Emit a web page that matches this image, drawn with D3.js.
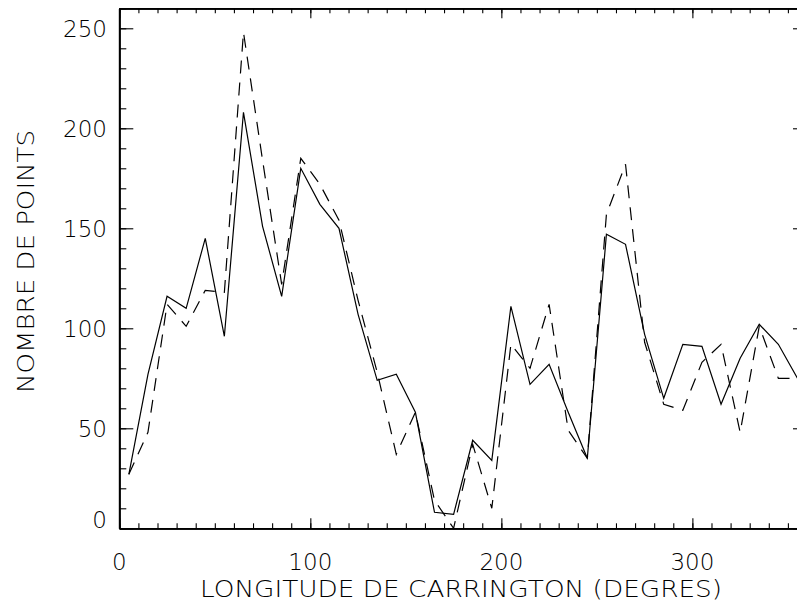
<!DOCTYPE html>
<html>
<head>
<meta charset="utf-8">
<script src="https://cdn.jsdelivr.net/npm/d3@7"></script>
<style>
html,body{margin:0;padding:0;background:#fff;}
svg{display:block;}
text{font-family:"DejaVu Sans","Liberation Sans",sans-serif;font-weight:200;fill:#000;}
</style>
</head>
<body>
<svg id="chart" width="797" height="611"></svg>
<script>
// ---- data ----
const longitude = [5,15,25,35,45,55,65,75,85,95,105,115,125,135,145,155,165,175,
                   185,195,205,215,225,235,245,255,265,275,285,295,305,315,325,335,345,355];
const solidSeries = [27,77,116,110,145,96,208,151,116,180,162,150,107,74,77,58,8,7,
                     44,34,111,72,82,58,35,147,142,97,65,92,91,62,85,102,92,75];
const dashedSeries = [27,48,112,101,119,118,248,184,122,185,172,154,114,78,37,58,14,0,
                      42,10,92,80,112,49,35,157,182,93,62,59,83,92,48,101,75,75];
const xMajorTicks = [0,100,200,300];
const yMajorTicks = [0,50,100,150,200,250];
const xTitle = "LONGITUDE DE CARRINGTON (DEGRES)";
const yTitle = "NOMBRE DE POINTS";

// ---- layout ----
const svg = d3.select("#chart");
const x = d3.scaleLinear().domain([0,360]).range([119.3, 807]);
const y = d3.scaleLinear().domain([0,260]).range([528.3, 8.3]);
const xMinor = d3.range(0,361,10);
const yMinor = d3.range(0,261,10);

function styleAxis(g){
  g.select(".domain").attr("stroke","#000").attr("stroke-width",1.8);
  g.selectAll(".tick line").attr("stroke","#000").attr("stroke-width",1.1);
  g.selectAll(".tick text").remove();
}
// bottom
svg.append("g").attr("transform",`translate(0,${y(0)})`)
  .call(d3.axisBottom(x).tickValues(xMinor).tickSize(-5).tickSizeOuter(0).tickFormat(""))
  .call(styleAxis);
svg.append("g").attr("transform",`translate(0,${y(0)})`)
  .call(d3.axisBottom(x).tickValues(xMajorTicks).tickSize(-10).tickSizeOuter(0).tickFormat(""))
  .call(styleAxis);
// top
svg.append("g").attr("transform",`translate(0,${y(260)})`)
  .call(d3.axisTop(x).tickValues(xMinor).tickSize(-5).tickSizeOuter(0).tickFormat(""))
  .call(styleAxis);
svg.append("g").attr("transform",`translate(0,${y(260)})`)
  .call(d3.axisTop(x).tickValues(xMajorTicks).tickSize(-10).tickSizeOuter(0).tickFormat(""))
  .call(styleAxis);
// left
svg.append("g").attr("transform",`translate(${x(0)},0)`)
  .call(d3.axisLeft(y).tickValues(yMinor).tickSize(-7).tickSizeOuter(0).tickFormat(""))
  .call(styleAxis);
svg.append("g").attr("transform",`translate(${x(0)},0)`)
  .call(d3.axisLeft(y).tickValues(yMajorTicks).tickSize(-14).tickSizeOuter(0).tickFormat(""))
  .call(styleAxis);
// right
svg.append("g").attr("transform",`translate(${x(360)},0)`)
  .call(d3.axisRight(y).tickValues(yMinor).tickSize(-7).tickSizeOuter(0).tickFormat(""))
  .call(styleAxis);
svg.append("g").attr("transform",`translate(${x(360)},0)`)
  .call(d3.axisRight(y).tickValues(yMajorTicks).tickSize(-14).tickSizeOuter(0).tickFormat(""))
  .call(styleAxis);

// tick labels
svg.append("g").selectAll("text").data(xMajorTicks).join("text")
  .attr("x", d => x(d)).attr("y", 570).attr("text-anchor","middle")
  .attr("font-size", 23).text(d => d);
svg.append("g").selectAll("text").data(yMajorTicks).join("text")
  .attr("x", 107).attr("y", d => d === 0 ? y(0) : y(d) + 9).attr("text-anchor","end")
  .attr("font-size", 23).text(d => d);

// titles
svg.append("text").attr("x", 461).attr("y", 597).attr("text-anchor","middle")
  .attr("font-size", 23).attr("textLength", 522).attr("lengthAdjust","spacingAndGlyphs")
  .text(xTitle);
svg.append("text").attr("transform","translate(33.5,261.5) rotate(-90)")
  .attr("text-anchor","middle").attr("font-size", 23)
  .attr("textLength", 263).attr("lengthAdjust","spacingAndGlyphs")
  .text(yTitle);

// lines
const solidData = longitude.map((l,i) => [l, solidSeries[i]]);
const dashedData = longitude.map((l,i) => [l, dashedSeries[i]]);
const line = d3.line().x(d => x(d[0])).y(d => y(d[1]));
svg.append("path").datum(dashedData).attr("d", line)
  .attr("fill","none").attr("stroke","#000").attr("stroke-width",1.2)
  .attr("stroke-dasharray","13,9");
svg.append("path").datum(solidData).attr("d", line)
  .attr("fill","none").attr("stroke","#000").attr("stroke-width",1.2);
</script>
</body>
</html>
